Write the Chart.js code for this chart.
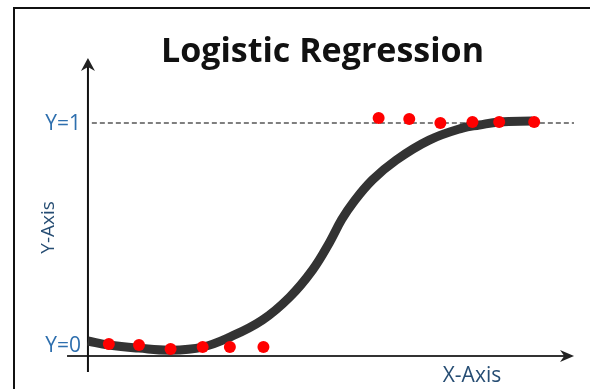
<!DOCTYPE html>
<html>
<head>
<meta charset="utf-8">
<script src="https://cdn.jsdelivr.net/npm/chart.js@4.4.1/dist/chart.umd.min.js"></script>
<style>
html, body { margin: 0; padding: 0; background: #fff; }
canvas { display: block; }
</style>
</head>
<body>
<canvas id="chart" width="590" height="389"></canvas>
<script>
// fitted sigmoid
var curveX = [0, 0.43, 1.05, 1.70, 2.36, 2.92, 3.59, 4.15, 4.62, 4.97, 5.22, 5.45, 5.85, 6.34, 7.02, 7.70, 8.05, 8.46, 9.14];
var curveY = [0.018, 0.0, -0.014, -0.023, -0.009, 0.036, 0.113, 0.216, 0.338, 0.462, 0.565, 0.640, 0.743, 0.833, 0.923, 0.977, 0.991, 1.005, 1.009];

// observations (red dots)
var pointsX = [0.43, 1.05, 1.70, 2.36, 2.92, 3.61, 5.98, 6.61, 7.25, 7.91, 8.46, 9.18];
var pointsY = [0.005, 0.0, -0.018, -0.009, -0.009, -0.009, 1.023, 1.018, 1.0, 1.005, 1.005, 1.005];

var levelValues = [0, 1];
var levelLabels = ['Y=0', 'Y=1'];
var titleText = 'Logistic Regression';
var xAxisLabel = 'X-Axis';
var yAxisLabel = 'Y-Axis';

function toPoints(xs, ys) {
	return xs.map(function(x, i) { return {x: x, y: ys[i]}; });
}

Chart.defaults.font.family = "'Open Sans', sans-serif";

function stealth(ctx, tx, ty, angle, len, half) {
	ctx.save();
	ctx.translate(tx, ty);
	ctx.rotate(angle);
	ctx.beginPath();
	ctx.moveTo(0, 0);
	ctx.lineTo(-len, -half);
	ctx.lineTo(-len * 0.7, 0);
	ctx.lineTo(-len, half);
	ctx.closePath();
	ctx.fill();
	ctx.restore();
}

const axesArrows = {
	id: 'axesArrows',
	beforeDatasetsDraw(chart, args, options) {
		const {ctx, scales: {x, y}} = chart;
		ctx.save();

		// picture frame
		ctx.strokeStyle = '#111';
		ctx.lineWidth = 2;
		ctx.beginPath();
		ctx.moveTo(14, chart.height);
		ctx.lineTo(14, 8);
		ctx.lineTo(chart.width, 8);
		ctx.stroke();

		// dashed Y=1 level
		const y1 = y.getPixelForValue(1);
		ctx.strokeStyle = '#555';
		ctx.lineWidth = 1.3;
		ctx.setLineDash([5, 3]);
		ctx.beginPath();
		ctx.moveTo(x.getPixelForValue(0.08), y1);
		ctx.lineTo(x.getPixelForValue(options.xEnd), y1);
		ctx.stroke();
		ctx.setLineDash([]);

		// x axis
		const xa = y.getPixelForValue(options.xAxisAt);
		const xEnd = x.getPixelForValue(options.xEnd);
		ctx.strokeStyle = '#333';
		ctx.fillStyle = '#222';
		ctx.lineWidth = 2;
		ctx.beginPath();
		ctx.moveTo(x.getPixelForValue(options.xStart), xa);
		ctx.lineTo(xEnd - 6, xa);
		ctx.stroke();
		stealth(ctx, xEnd, xa, 0, 14, 6);

		// y axis
		const ya = x.getPixelForValue(0);
		const yTop = y.getPixelForValue(options.yEnd);
		ctx.strokeStyle = '#111';
		ctx.beginPath();
		ctx.moveTo(ya, y.getPixelForValue(options.yStart));
		ctx.lineTo(ya, yTop + 6);
		ctx.stroke();
		stealth(ctx, ya, yTop, -Math.PI / 2, 13, 7);

		// level labels
		ctx.font = "21px 'Open Sans'";
		ctx.fillStyle = '#2e6fae';
		ctx.textAlign = 'right';
		ctx.textBaseline = 'middle';
		levelValues.forEach(function(v, i) {
			ctx.fillText(levelLabels[i], ya - 7, y.getPixelForValue(v) + 1);
		});

		// axis titles
		ctx.fillStyle = '#264d73';
		ctx.textAlign = 'center';
		ctx.font = "21px 'Open Sans'";
		ctx.fillText(xAxisLabel, x.getPixelForValue(7.9), xa + 20);
		ctx.save();
		ctx.translate(49, y.getPixelForValue(0.53));
		ctx.rotate(-Math.PI / 2);
		ctx.font = "19px 'Open Sans'";
		ctx.fillText(yAxisLabel, 0, 0);
		ctx.restore();

		ctx.restore();
	}
};

var chart = new Chart(document.getElementById('chart'), {
	type: 'scatter',
	data: {
		datasets: [{
			label: 'Observations',
			data: toPoints(pointsX, pointsY),
			backgroundColor: '#ff0000',
			borderWidth: 0,
			pointRadius: 6,
			order: 0,
		}, {
			type: 'line',
			label: 'Sigmoid',
			data: toPoints(curveX, curveY),
			borderColor: '#333333',
			borderWidth: 9,
			borderCapStyle: 'butt',
			pointRadius: 0,
			tension: 0.4,
			fill: false,
			order: 1,
		}]
	},
	options: {
		responsive: false,
		animation: false,
		layout: {
			padding: {left: 60, right: 5, top: 0, bottom: 10}
		},
		scales: {
			x: {type: 'linear', display: false, min: -0.575, max: 10.205},
			y: {type: 'linear', display: false, min: -0.153, max: 1.2414},
		},
		plugins: {
			legend: {display: false},
			tooltip: {enabled: false},
			title: {
				display: true,
				text: titleText,
				color: '#111',
				font: {size: 34, weight: 'bold', lineHeight: 1.2},
				padding: {top: 31.6, bottom: -3},
			},
			axesArrows: {
				xStart: -0.43, xEnd: 10.0, xAxisAt: -0.0495,
				yStart: -0.122, yEnd: 1.293,
			},
		},
	},
	plugins: [axesArrows],
});
</script>
</body>
</html>
